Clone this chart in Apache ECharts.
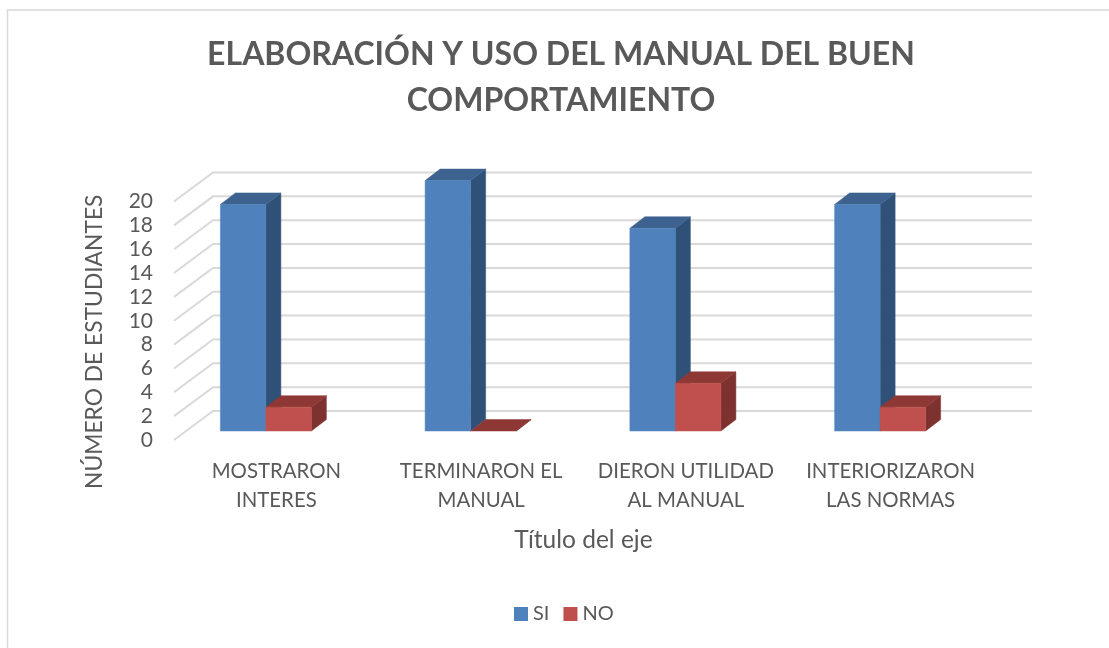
<!DOCTYPE html>
<html><head><meta charset="utf-8">
<style>html,body{margin:0;padding:0;background:#fff}#c{width:1109px;height:648px}</style>
<script src="https://cdn.jsdelivr.net/npm/echarts@6/dist/echarts.min.js"></script>
</head><body><div id="c"></div>
<script>
const categories = ['MOSTRARON\nINTERES','TERMINARON EL\nMANUAL','DIERON UTILIDAD\nAL MANUAL','INTERIORIZARON\nLAS NORMAS'];
const si = [19,21,17,19];
const no = [2,0,4,2];
const yTicks = [0,2,4,6,8,10,12,14,16,18,20];
const titleText = 'ELABORACIÓN Y USO DEL MANUAL DEL BUEN\nCOMPORTAMIENTO';
const FONT = 'Lato';
const TXT = '#595959';
const GRID = '#d9d9d9';
const WALL = [39,-29], DEPTH = [15,-11.5], BASE = [-10.5,-9], BW = 45.5;

function quad(pts, fill){
  return {type:'polygon', shape:{points:pts}, style:{fill:fill, stroke:fill, lineWidth:0.5}};
}
function barItem(side, colors){
  return function(params, api){
    const base = api.coord([api.value(0),0]);
    const top = api.coord([api.value(0),api.value(1)]);
    const xc = base[0]+BASE[0];
    const x0 = side<0 ? xc-BW : xc, x1 = x0+BW;
    const yb = base[1]+BASE[1], yt = top[1]+BASE[1];
    const dx = DEPTH[0], dy = DEPTH[1];
    const kids = [
      quad([[x1,yb],[x1+dx,yb+dy],[x1+dx,yt+dy],[x1,yt]], colors[1]),
      quad([[x0,yt],[x1,yt],[x1+dx,yt+dy],[x0+dx,yt+dy]], colors[2])
    ];
    if (yb-yt>0.5) kids.push(quad([[x0,yb],[x1,yb],[x1,yt],[x0,yt]], colors[0]));
    return {type:'group', children:kids};
  };
}
const chart = echarts.init(document.getElementById('c'));
chart.setOption({
  animation:false,
  backgroundColor:'#fff',
  graphic:[{type:'polyline', z:-1, shape:{points:[[7.5,648],[7.5,10],[1109,10]]}, style:{fill:'none',stroke:'#d9d9d9',lineWidth:1.5}}],
  title:{text:titleText, left:556, top:27, textAlign:'center',
    textStyle:{fontFamily:FONT,fontSize:32,fontWeight:'bold',color:TXT,lineHeight:46}},
  legend:{left:514, top:604, padding:0, icon:'rect', itemWidth:14, itemHeight:14, itemGap:14, data:['SI','NO'],
    textStyle:{fontFamily:FONT,fontSize:20,color:TXT}},
  grid:{left:174, right:116, top:201.5, bottom:208},
  xAxis:{type:'category', data:categories, axisLine:{show:false}, axisTick:{show:false}, splitLine:{show:false},
    axisLabel:{fontFamily:FONT,fontSize:20.4,color:TXT,lineHeight:29,margin:17,interval:0},
    name:'Título del eje', nameLocation:'middle', nameGap:88,
    nameTextStyle:{fontFamily:FONT,fontSize:24.5,color:TXT}},
  yAxis:{type:'value', min:0, max:20, interval:2, axisLine:{show:false}, axisTick:{show:false}, splitLine:{show:false},
    axisLabel:{fontFamily:FONT,fontSize:21,color:TXT,margin:21},
    name:'NÚMERO DE ESTUDIANTES', nameLocation:'middle', nameGap:68,
    nameTextStyle:{fontFamily:FONT,fontSize:22.8,color:TXT,padding:[0,42,0,0]}},
  series:[
    {type:'custom', name:'grid', silent:true, z:1, clip:false, legendHoverLink:false,
     data:yTicks.map(v=>[0,v]),
     renderItem:function(params,api){
       const p = api.coord([0,api.value(1)]);
       const cs = params.coordSys;
       const y = p[1];
       return {type:'polyline', shape:{points:[[cs.x,y],[cs.x+WALL[0],y+WALL[1]],[cs.x+cs.width+WALL[0],y+WALL[1]]]},
         style:{fill:'none',stroke:GRID,lineWidth:2}};
     }},
    {type:'custom', name:'SI', z:2, itemStyle:{color:'#4f81bd'}, clip:false,
     data:si.map((v,i)=>[i,v]), renderItem:barItem(-1,['#4f81bd','#2f5178','#3e6290'])},
    {type:'custom', name:'NO', z:3, itemStyle:{color:'#c0504d'}, clip:false,
     data:no.map((v,i)=>[i,v]), renderItem:barItem(1,['#c0504d','#7d3230','#8e3836'])}
  ]
});
</script></body></html>
